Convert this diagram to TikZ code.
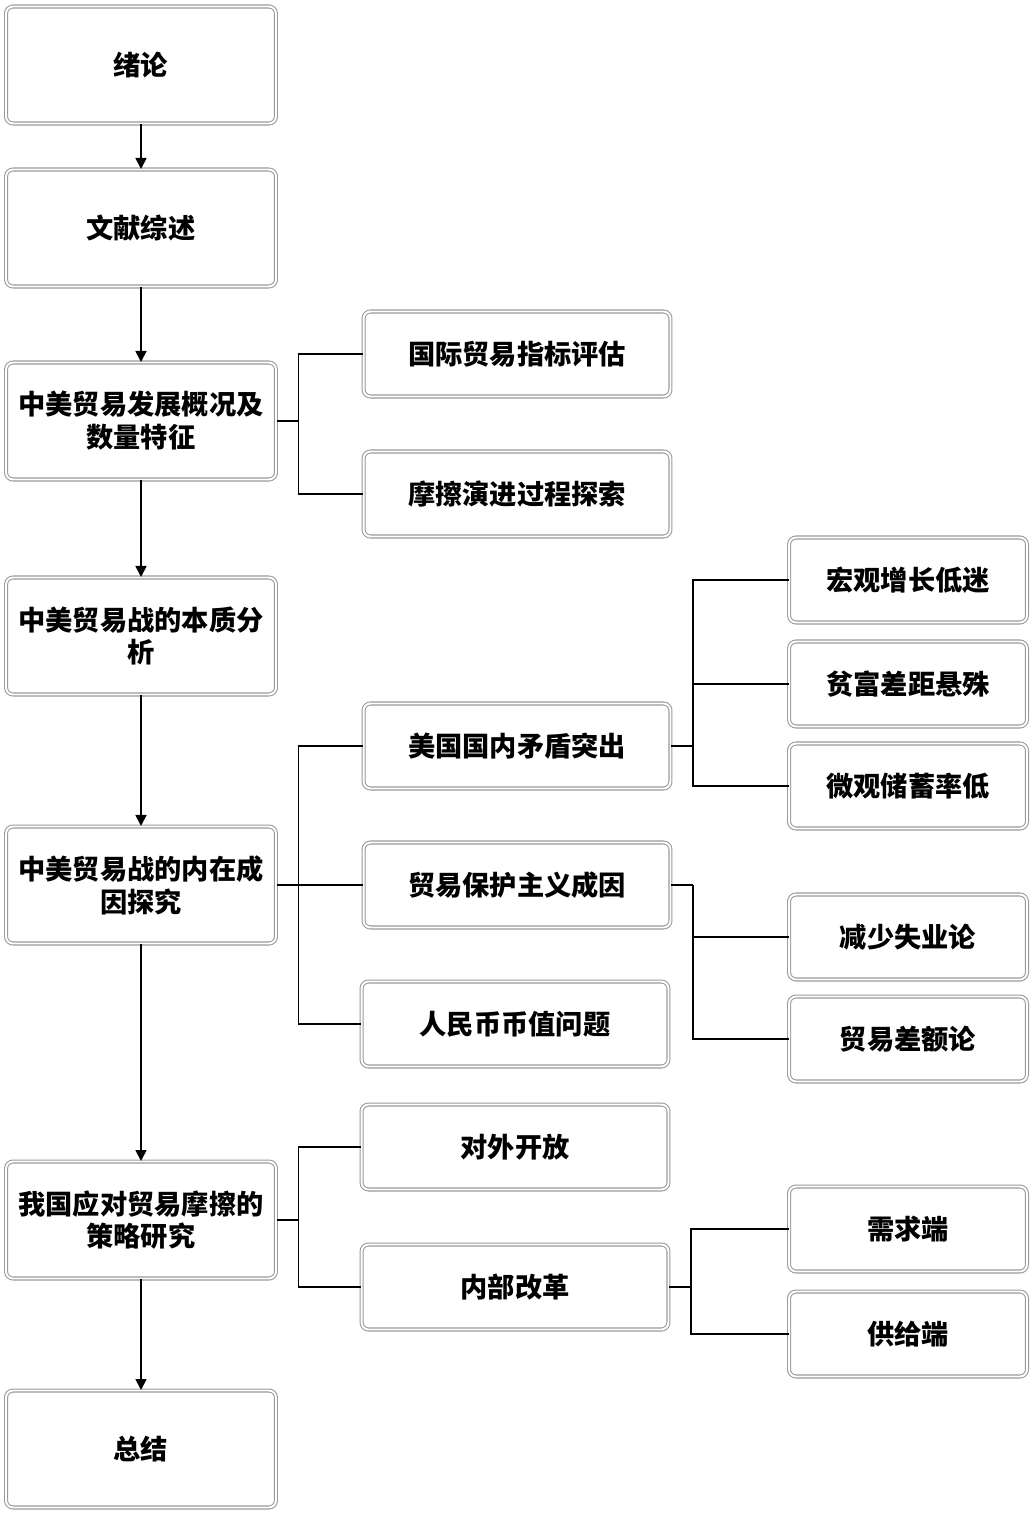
\documentclass[tikz,border=0pt]{standalone}
\usepackage{fontspec}
\newfontfamily\cjk{Noto Sans CJK SC}
\usetikzlibrary{arrows.meta,positioning}
\definecolor{Frame}{HTML}{9A9A9A}

\tikzset{
  stage/.style={draw=Frame, double=white, double distance=1.1pt, line width=0.6pt,
    rounded corners=4pt, minimum width=5.4cm, minimum height=2.34cm,
    align=center, text width=5.1cm, font=\cjk\bfseries\fontsize{15.5}{18.7}\selectfont},
  topic/.style={stage, minimum width=6.14cm, minimum height=1.7cm, text width=5.9cm},
  leaf/.style={stage, minimum width=4.76cm, minimum height=1.7cm, text width=4.5cm},
  link/.style={line width=1pt, black}
}

\begin{document}
\begin{tikzpicture}[>={Triangle[width=0.22cm,length=0.22cm]}, x=0.02cm, y=-0.02cm]
  \useasboundingbox (0,0) rectangle (1032,1514);
  % main column
  \node[stage] (intro) at (141,65) {绪论};
  \node[stage] (review) at (141,228) {文献综述};
  \node[stage] (status) at (141,421) {中美贸易发展概况及\\数量特征};
  \node[stage] (nature) at (141,636) {中美贸易战的本质分\\析};
  \node[stage] (cause) at (141,885) {中美贸易战的内在成\\因探究};
  \node[stage] (policy) at (141,1220) {我国应对贸易摩擦的\\策略研究};
  \node[stage] (summary) at (141,1449) {总结};
  % second column
  \node[topic] (index) at (517,354) {国际贸易指标评估};
  \node[topic] (evolve) at (517,494) {摩擦演进过程探索};
  \node[topic] (usconf) at (517,746) {美国国内矛盾突出};
  \node[topic] (protect) at (517,885) {贸易保护主义成因};
  \node[topic] (rmb) at (515,1024) {人民币币值问题};
  \node[topic] (open) at (515,1147) {对外开放};
  \node[topic] (reform) at (515,1287) {内部改革};
  % third column
  \node[leaf] (macro) at (908,580) {宏观增长低迷};
  \node[leaf] (gap) at (908,684) {贫富差距悬殊};
  \node[leaf] (saving) at (908,786) {微观储蓄率低};
  \node[leaf] (jobs) at (908,937) {减少失业论};
  \node[leaf] (balance) at (908,1039) {贸易差额论};
  \node[leaf] (demand) at (908,1229) {需求端};
  \node[leaf] (supply) at (908,1334) {供给端};

  % arrows down the main column
  \foreach \a/\b in {intro/review, review/status, status/nature, nature/cause, cause/policy, policy/summary}
    \draw[link,->] (\a) -- (\b);

  % branches
  \draw[link] (status.east) -- ++(22,0) coordinate (bs);
  \foreach \t in {index, evolve} \draw[link] (bs) |- (\t.west);
  \draw[link] (cause.east) -- ++(22,0) coordinate (bc);
  \foreach \t in {usconf, protect, rmb} \draw[link] (bc) |- (\t.west);
  \draw[link] (policy.east) -- ++(22,0) coordinate (bp);
  \foreach \t in {open, reform} \draw[link] (bp) |- (\t.west);
  \draw[link] (usconf.east) -- ++(22,0) coordinate (bu);
  \foreach \t in {macro, gap, saving} \draw[link] (bu) |- (\t.west);
  \draw[link] (protect.east) -- ++(22,0) coordinate (bt);
  \foreach \t in {jobs, balance} \draw[link] (bt) |- (\t.west);
  \draw[link] (reform.east) -- ++(22,0) coordinate (br);
  \foreach \t in {demand, supply} \draw[link] (br) |- (\t.west);
\end{tikzpicture}
\end{document}
